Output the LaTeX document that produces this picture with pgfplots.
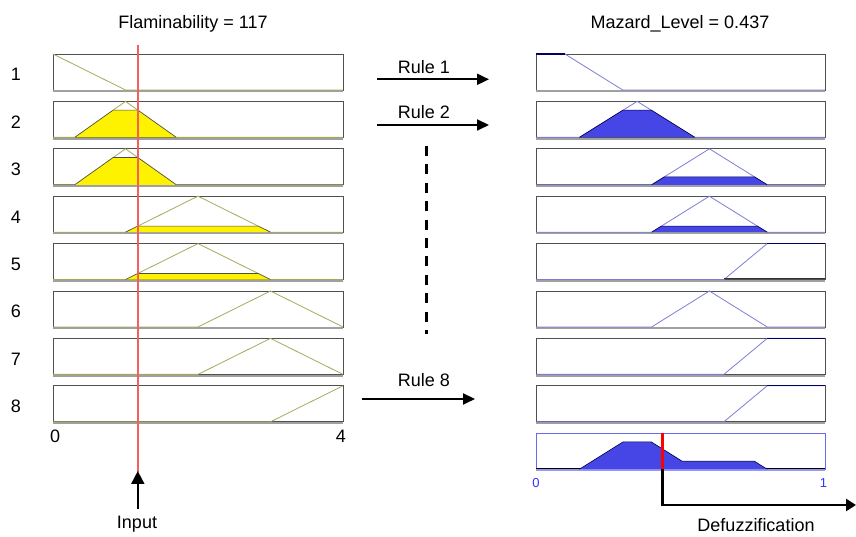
\documentclass[border=0pt]{standalone}
\usepackage{pgfplots}
\pgfplotsset{compat=1.18}
\usepackage{fontspec}
\setmainfont{Liberation Sans}
\usetikzlibrary{arrows.meta}
\definecolor{frame}{HTML}{505050}
\definecolor{botgray}{HTML}{A0A0A0}
\definecolor{lmf}{HTML}{A8A85A}
\definecolor{rmf}{HTML}{7C7CD8}
\definecolor{yfill}{HTML}{FFF200}
\definecolor{bfill}{HTML}{4646E6}
\definecolor{inred}{HTML}{F26060}
\definecolor{aggframe}{HTML}{6A6AF0}
\pgfplotsset{
  panel/.style={scale only axis, width=290pt, height=36pt, xmin=0, xmax=4,
    ymin=0, ymax=1, xtick=\empty, ytick=\empty, clip=false,
    anchor=north west, axis line style={draw=frame, line width=0.9pt}},
  rpanel/.style={panel, width=289pt, xmax=1},
  lmfs/.style={lmf, line width=0.8pt, mark=none},
  rmfs/.style={rmf, line width=0.8pt, mark=none},
  yf/.style={fill=yfill, draw=black!70, line width=0.6pt, mark=none},
  bf/.style={fill=bfill, draw=black!70!blue, line width=0.6pt, mark=none},
}
\newcommand{\bline}{\draw[botgray, line width=2pt] ([yshift=-1.2pt]rel axis cs:0,0) -- ([yshift=-1.2pt]rel axis cs:1,0);}
\begin{document}
\fontsize{18}{21}\selectfont
\begin{tikzpicture}[x=1pt,y=1pt]
\path[use as bounding box] (0,0) rectangle (856,537);

% ---------- left column: Flaminability (0..4) ----------
\begin{axis}[panel, at={(53pt,483pt)}]
\bline
\addplot[lmfs] coordinates {(0,1) (1,0) (4,0)};
\coordinate (rT) at (axis cs:1.17,1.25);
\end{axis}
\begin{axis}[panel, at={(53pt,435.6pt)}]
\bline
\addplot[lmfs] coordinates {(0,0) (0.3,0) (1.0,1) (1.7,0) (4,0)};
\addplot[yf] coordinates {(0.3,0) (0.83,0.757) (1.17,0.757) (1.7,0)};
\end{axis}
\begin{axis}[panel, at={(53pt,388.2pt)}]
\bline
\addplot[lmfs] coordinates {(0,0) (0.3,0) (1.0,1) (1.7,0) (4,0)};
\addplot[yf] coordinates {(0.3,0) (0.83,0.757) (1.17,0.757) (1.7,0)};
\end{axis}
\begin{axis}[panel, at={(53pt,340.8pt)}]
\bline
\addplot[lmfs] coordinates {(0,0) (1,0) (2,1) (3,0) (4,0)};
\addplot[yf] coordinates {(1,0) (1.17,0.17) (2.83,0.17) (3,0)};
\end{axis}
\begin{axis}[panel, at={(53pt,293.4pt)}]
\bline
\addplot[lmfs] coordinates {(0,0) (1,0) (2,1) (3,0) (4,0)};
\addplot[yf] coordinates {(1,0) (1.17,0.17) (2.83,0.17) (3,0)};
\end{axis}
\begin{axis}[panel, at={(53pt,246pt)}]
\bline
\addplot[lmfs] coordinates {(0,0) (2,0) (3,1) (4,0)};
\end{axis}
\begin{axis}[panel, at={(53pt,198.6pt)}]
\bline
\addplot[lmfs] coordinates {(0,0) (2,0) (3,1) (4,0)};
\end{axis}
\begin{axis}[panel, at={(53pt,151.2pt)}]
\bline
\addplot[lmfs] coordinates {(0,0) (3,0) (4,1)};
\coordinate (rB) at (axis cs:1.17,-1.4);
\node[anchor=base] at ([yshift=-57.2pt]axis cs:0.03,1) {0};
\node[anchor=base] at ([yshift=-57.2pt]axis cs:3.97,1) {4};
\end{axis}

% ---------- right column: Mazard_Level (0..1) ----------
\begin{axis}[rpanel, at={(536pt,483pt)}]
\bline
\addplot[rmfs] coordinates {(0,1) (0.1,1) (0.3,0) (1,0)};
\addplot[draw=black!60!blue, line width=1.2pt] coordinates {(0,1) (0.1,1)};
\end{axis}
\begin{axis}[rpanel, at={(536pt,435.6pt)}]
\bline
\addplot[rmfs] coordinates {(0,0) (0.15,0) (0.35,1) (0.55,0) (1,0)};
\addplot[bf] coordinates {(0.15,0) (0.301,0.757) (0.399,0.757) (0.55,0)};
\end{axis}
\begin{axis}[rpanel, at={(536pt,388.2pt)}]
\bline
\addplot[rmfs] coordinates {(0,0) (0.4,0) (0.6,1) (0.8,0) (1,0)};
\addplot[bf] coordinates {(0.4,0) (0.444,0.22) (0.756,0.22) (0.8,0)};
\end{axis}
\begin{axis}[rpanel, at={(536pt,340.8pt)}]
\bline
\addplot[rmfs] coordinates {(0,0) (0.4,0) (0.6,1) (0.8,0) (1,0)};
\addplot[bf] coordinates {(0.4,0) (0.434,0.17) (0.766,0.17) (0.8,0)};
\end{axis}
\begin{axis}[rpanel, at={(536pt,293.4pt)}]
\bline
\addplot[rmfs] coordinates {(0,0) (0.65,0) (0.8,1) (1,1)};
\addplot[draw=black!60!blue, line width=1.2pt] coordinates {(0.8,1) (1,1)};
\addplot[draw=black!80, line width=1.2pt] coordinates {(0.65,0.02) (1,0.02)};
\end{axis}
\begin{axis}[rpanel, at={(536pt,246pt)}]
\bline
\addplot[rmfs] coordinates {(0,0) (0.4,0) (0.6,1) (0.8,0) (1,0)};
\end{axis}
\begin{axis}[rpanel, at={(536pt,198.6pt)}]
\bline
\addplot[rmfs] coordinates {(0,0) (0.65,0) (0.8,1) (1,1)};
\addplot[draw=black!60!blue, line width=1.2pt] coordinates {(0.8,1) (1,1)};
\end{axis}
\begin{axis}[rpanel, at={(536pt,151.2pt)}]
\bline
\addplot[rmfs] coordinates {(0,0) (0.65,0) (0.8,1) (1,1)};
\addplot[draw=black!60!blue, line width=1.2pt] coordinates {(0.8,1) (1,1)};
\end{axis}
% aggregated output
\begin{axis}[rpanel, at={(536pt,103.8pt)}, axis line style={draw=aggframe, line width=0.9pt}]
\draw[aggframe!70, line width=2pt] ([yshift=-1pt]rel axis cs:0,0) -- ([yshift=-1pt]rel axis cs:1,0);
\addplot[draw=black, line width=0.9pt] coordinates {(0,0.02) (1,0.02)};
\addplot[bf] coordinates {(0.15,0) (0.301,0.757) (0.399,0.757) (0.506,0.22) (0.756,0.22) (0.8,0)};
\addplot[red, line width=3pt] coordinates {(0.437,0) (0.437,1)};
\coordinate (dB) at (axis cs:0.437,0);
\node[anchor=base, text=blue!80, font=\fontsize{13}{15}\selectfont] at ([yshift=-18pt]axis cs:0,0) {0};
\node[anchor=base, text=blue!80, font=\fontsize{13}{15}\selectfont] at ([yshift=-18pt]axis cs:0.995,0) {1};
\end{axis}

% ---------- annotations ----------
\draw[inred, line width=2pt] (rT) -- (rB);
\draw[black, line width=2pt, -{Triangle[length=13pt,width=13pt]}] (137.8,28) -- (137.8,66);
\node[anchor=base] at (137,8) {Input};

\draw[black, line width=2.5pt, -{Triangle[length=10pt,width=12pt]}] (dB) -- (dB |- 0,32) -- (856,32);
\node[anchor=base] at (756,5) {Defuzzification};

\node[anchor=base] at (193,508) {Flaminability = 117};
\node[anchor=base] at (680,508) {Mazard\_Level = 0.437};

\foreach \i/\y in {1/456,2/408.6,3/361.2,4/313.8,5/266.4,6/219,7/171.6,8/124.2}
  \node[anchor=base] at (16,\y) {\i};

\draw[line width=2pt, -{Triangle[length=12pt,width=11pt]}] (377,457.7) -- (489,457.7);
\node[anchor=base] at (424,463.7) {Rule 1};
\draw[line width=2pt, -{Triangle[length=12pt,width=11pt]}] (377,412) -- (489,412);
\node[anchor=base] at (424,418.7) {Rule 2};
\draw[line width=2pt, -{Triangle[length=12pt,width=11pt]}] (362,138) -- (475,138);
\node[anchor=base] at (424,150.3) {Rule 8};
\draw[line width=3pt, dash pattern=on 10pt off 8.4pt] (426.7,391) -- (426.7,203);
\end{tikzpicture}
\end{document}
